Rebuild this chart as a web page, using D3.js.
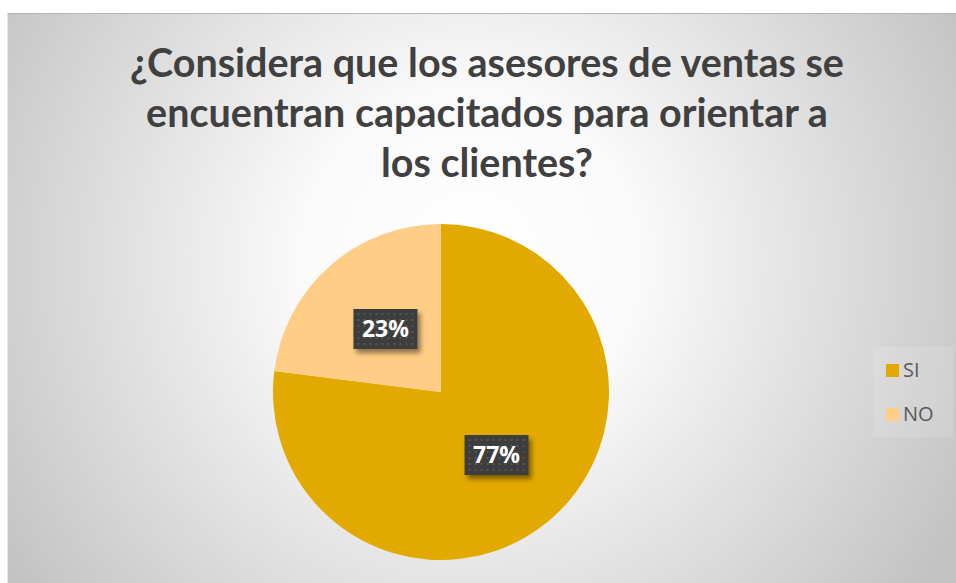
<!DOCTYPE html>
<html>
<head>
<meta charset="utf-8">
<script src="https://cdn.jsdelivr.net/npm/d3@7"></script>
<style>
  html, body { margin: 0; padding: 0; background: #fff; }
  svg { display: block; }
</style>
</head>
<body>
<svg id="chart" width="956" height="583"></svg>
<script>
var categories = ["SI", "NO"],
    values = [77, 23],
    colors = ["#E2AA00", "#FFCD85"],
    titleLines = [
      "¿Considera que los asesores de ventas se",
      "encuentran capacitados para orientar a",
      "los clientes?"
    ];

var svg = d3.select("#chart"),
    width = +svg.attr("width"),
    height = +svg.attr("height"),
    cx = 441,
    cy = 392,
    radius = 168;

var defs = svg.append("defs");

var bg = defs.append("radialGradient")
    .attr("id", "bg")
    .attr("gradientUnits", "userSpaceOnUse")
    .attr("cx", 470).attr("cy", 260).attr("r", 560);
bg.append("stop").attr("offset", "0").attr("stop-color", "#ffffff");
bg.append("stop").attr("offset", "0.3").attr("stop-color", "#fafafa");
bg.append("stop").attr("offset", "1").attr("stop-color", "#c2c2c2");

var dots = defs.append("pattern")
    .attr("id", "dots")
    .attr("patternUnits", "userSpaceOnUse")
    .attr("width", 6).attr("height", 6);
dots.append("rect").attr("width", 6).attr("height", 6).attr("fill", "#3c3c3c");
dots.append("rect").attr("x", 2).attr("y", 2).attr("width", 2).attr("height", 2).attr("fill", "#555");

var shadow = defs.append("filter")
    .attr("id", "shadow")
    .attr("x", "-30%").attr("y", "-30%").attr("width", "170%").attr("height", "170%");
shadow.append("feDropShadow")
    .attr("dx", 3).attr("dy", 4).attr("stdDeviation", 2.5)
    .attr("flood-color", "#000").attr("flood-opacity", 0.45);

// chart area
svg.append("rect")
    .attr("x", 7).attr("y", 13)
    .attr("width", width).attr("height", height)
    .attr("fill", "url(#bg)");
svg.append("line")
    .attr("x1", 7).attr("x2", width).attr("y1", 13.5).attr("y2", 13.5)
    .attr("stroke", "#b4b4b4");
svg.append("line")
    .attr("x1", 7.5).attr("x2", 7.5).attr("y1", 13).attr("y2", height)
    .attr("stroke", "#e2e2e2");

// title
svg.append("g")
    .selectAll("text")
    .data(titleLines)
    .enter()
    .append("text")
    .attr("x", 487)
    .attr("y", (d, i) => 77 + i * 50)
    .attr("text-anchor", "middle")
    .attr("font-family", "Lato, 'Open Sans', sans-serif")
    .attr("font-weight", "bold")
    .attr("font-size", 39.5)
    .attr("fill", "#404040")
    .text(d => d);

// pie
var pie = d3.pie().sort(null).value(d => d.value),
    arc = d3.arc().innerRadius(0).outerRadius(radius),
    data = pie(categories.map((c, i) => ({name: c, value: values[i], color: colors[i]}))),
    total = d3.sum(values);

var g = svg.append("g").attr("transform", "translate(" + cx + "," + cy + ")");

g.selectAll("path")
    .data(data)
    .enter()
    .append("path")
    .attr("d", arc)
    .attr("fill", d => d.data.color);

var labels = g.selectAll("g.label")
    .data(data)
    .enter()
    .append("g")
    .attr("class", "label")
    .attr("transform", d => "translate(" + arc.centroid(d) + ")");

labels.append("rect")
    .attr("x", -32).attr("y", -20)
    .attr("width", 64).attr("height", 40)
    .attr("fill", "url(#dots)")
    .attr("filter", "url(#shadow)");

labels.append("text")
    .attr("text-anchor", "middle")
    .attr("dy", "0.36em")
    .attr("font-family", "'Open Sans', sans-serif")
    .attr("font-weight", "bold")
    .attr("font-size", 23)
    .attr("fill", "#ffffff")
    .text(d => Math.round(d.data.value / total * 100) + "%");

// legend
svg.append("rect")
    .attr("x", 873).attr("y", 347)
    .attr("width", 80).attr("height", 90)
    .attr("fill", "#ffffff").attr("fill-opacity", 0.12);

var legend = svg.selectAll("g.legend")
    .data(categories)
    .enter()
    .append("g")
    .attr("class", "legend")
    .attr("transform", (d, i) => "translate(886," + (364 + i * 44) + ")");

legend.append("rect")
    .attr("width", 13).attr("height", 13)
    .attr("fill", (d, i) => colors[i]);

legend.append("text")
    .attr("x", 17)
    .attr("y", 13)
    .attr("font-family", "'Open Sans', sans-serif")
    .attr("font-size", 20)
    .attr("fill", "#595959")
    .text(d => d);
</script>
</body>
</html>
